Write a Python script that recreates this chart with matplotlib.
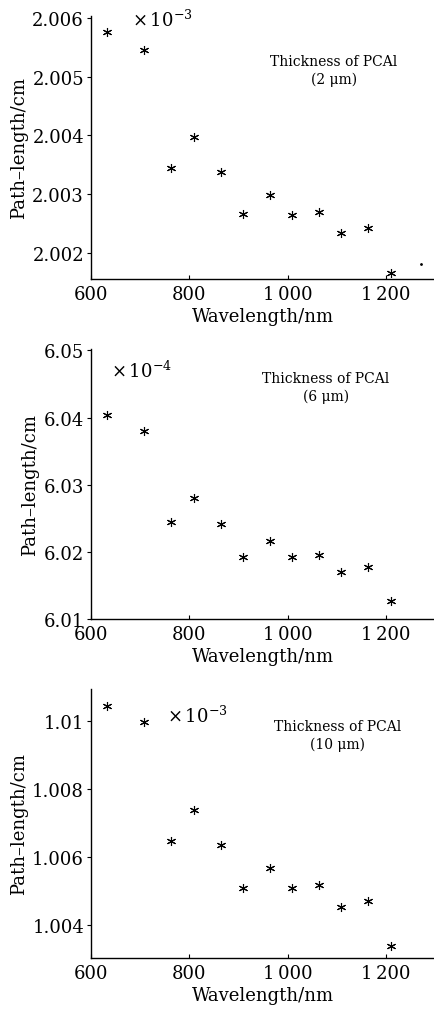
import matplotlib
matplotlib.use("Agg")
from matplotlib import pyplot as plt

plt.rcParams['font.family'] = ['DejaVu Serif']
plt.rcParams['mathtext.fontset'] = 'dejavuserif'

# wavelengths (nm)
wavelength = [632.8, 708, 763, 810, 865, 909, 964, 1010, 1064, 1108, 1163, 1210]

# path-length (cm) for each PCAl thickness
path_2um = [2.00575, 2.00546, 2.00345, 2.00397, 2.00338, 2.00266, 2.00299,
            2.00264, 2.00270, 2.00234, 2.00243, 2.00167]
path_6um = [6.04033, 6.03801, 6.02447, 6.02799, 6.02418, 6.01917, 6.02165,
            6.01917, 6.01957, 6.01704, 6.01778, 6.01263]
path_10um = [1.01042, 1.00995, 1.00648, 1.00737, 1.00634, 1.00508, 1.00567,
             1.00508, 1.00517, 1.00453, 1.00470, 1.00339]

# stray dot in the first panel
stray_x = [1271]
stray_y = [2.00181]

xticks = [600, 800, 1000, 1200]
xticklabels = ['600', '800', '1\u2009000', '1\u2009200']

W, H = 435, 1012
fig = plt.figure(figsize=(W / 100, H / 100), dpi=100)


def add_panel(top, bottom, yvals, ylim, yticks, yticklabels, mult, mult_xy,
              thick, label_xy):
    ax = fig.add_axes([91 / W, 1 - bottom / H, (434 - 91) / W, (bottom - top) / H])
    ax.plot(wavelength, yvals, linestyle='none', marker=(6, 2, 0),
            markersize=6.5, markeredgewidth=0.8, color='black')
    ax.set_xlim(600, 1298)
    ax.set_ylim(*ylim)
    ax.set_xticks(xticks)
    ax.set_xticklabels(xticklabels)
    ax.set_yticks(yticks)
    ax.set_yticklabels(yticklabels)
    ax.tick_params(axis='x', direction='in', length=3, labelsize=13, pad=4)
    ax.tick_params(axis='y', direction='out', length=3, labelsize=13, pad=2)
    ax.spines['top'].set_visible(False)
    ax.spines['right'].set_visible(False)
    for s in ('left', 'bottom'):
        ax.spines[s].set_linewidth(1.0)
    ax.set_xlabel('Wavelength/nm', fontsize=13, labelpad=3)
    ax.set_ylabel('Path\u2013length/cm', fontsize=13, labelpad=3)
    fig.text(mult_xy[0] / W, 1 - mult_xy[1] / H, mult, fontsize=13,
             ha='left', va='center')
    fig.text(label_xy[0] / W, 1 - label_xy[1] / H,
             'Thickness of PCAl\n(' + thick + ' \u03bcm)', fontsize=10,
             ha='center', va='center', linespacing=1.35)
    return ax


ax1 = add_panel(17, 280, path_2um, (2.00156, 2.00603),
                [2.002, 2.003, 2.004, 2.005, 2.006],
                ['2.002', '2.003', '2.004', '2.005', '2.006'],
                r'$\times\,10^{-3}$', (132, 20), '2', (334, 71))
ax1.plot(stray_x, stray_y, linestyle='none', marker='.', markersize=2,
         color='black')

add_panel(350, 620, path_6um, (6.01, 6.0502),
          [6.01, 6.02, 6.03, 6.04, 6.05],
          ['6.01', '6.02', '6.03', '6.04', '6.05'],
          r'$\times\,10^{-4}$', (111, 371), '6', (326, 388))

add_panel(690, 959, path_10um, (1.00304, 1.01093),
          [1.004, 1.006, 1.008, 1.01],
          ['1.004', '1.006', '1.008', '1.01'],
          r'$\times\,10^{-3}$', (167, 716), '10', (338, 736))

plt.savefig('out.png', dpi=100)
plt.close()
